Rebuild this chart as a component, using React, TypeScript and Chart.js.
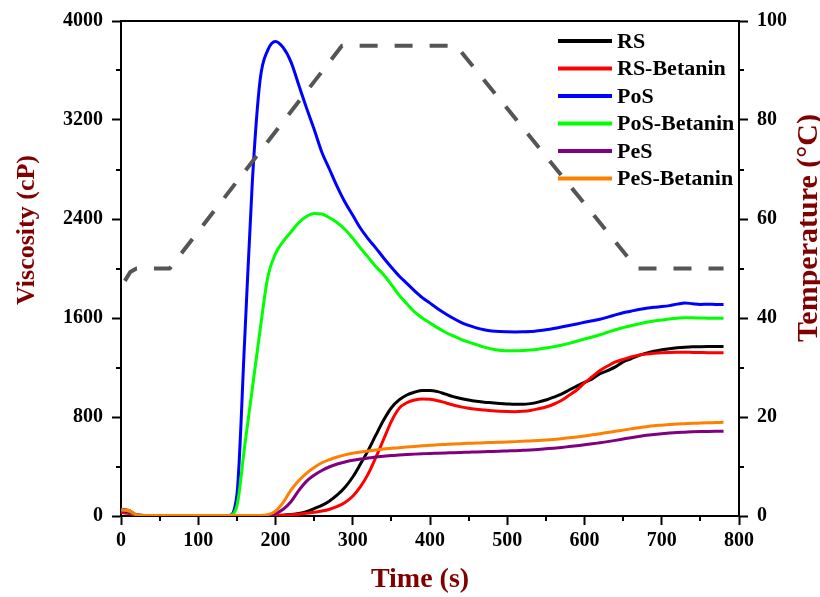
import React, { useEffect, useRef } from "react";
import { Chart, registerables } from "chart.js";

Chart.register(...registerables);

// ---------- DATA ----------
const timeSeconds = [
  0, 10, 20, 30, 40, 50, 60, 70, 80, 90, 100, 110, 120, 130, 140, 150, 160, 170, 180, 190,
  200, 210, 220, 230, 240, 250, 260, 270, 280, 290, 300, 310, 320, 330, 340, 350, 360, 370, 380, 390,
  400, 410, 420, 430, 440, 450, 460, 470, 480, 490, 500, 510, 520, 530, 540, 550, 560, 570, 580, 590,
  600, 610, 620, 630, 640, 650, 660, 670, 680, 690, 700, 710, 720, 730, 740, 750, 760, 770, 780,
];

const rsViscosity = [
  40, 30, 6, 4, 3, 3, 3, 3, 3, 3, 3, 3, 3, 3, 3, 3, 3, 3, 3, 4,
  5, 7, 12, 20, 35, 60, 86, 122, 170, 232, 315, 420, 530, 655, 775, 875, 938, 978, 1000, 1015,
  1015, 1005, 985, 965, 950, 938, 928, 920, 915, 910, 906, 903, 903, 908, 920, 937, 960, 985, 1018, 1050,
  1080, 1108, 1150, 1175, 1205, 1245, 1270, 1297, 1316, 1332, 1343, 1352, 1359, 1364, 1367, 1368, 1369, 1370, 1370,
];

const rsBetaninViscosity = [
  30, 20, 4, 3, 3, 3, 3, 3, 3, 3, 3, 3, 3, 3, 3, 3, 3, 3, 3, 3,
  4, 6, 10, 15, 22, 30, 40, 55, 78, 110, 160, 237, 340, 475, 620, 765, 870, 915, 937, 945,
  943, 932, 915, 897, 882, 870, 862, 856, 850, 846, 844, 843, 846, 853, 866, 881, 903, 933, 975, 1018,
  1075, 1125, 1175, 1212, 1245, 1265, 1285, 1299, 1309, 1316, 1320, 1322, 1323, 1323, 1322, 1321, 1320, 1320, 1320,
];

const posViscosity = [
  45, 35, 8, 5, 5, 5, 5, 5, 5, 5, 5, 5, 5, 5, 5, 170, 1410, 2700, 3520, 3765,
  3835, 3785, 3670, 3485, 3300, 3125, 2940, 2800, 2660, 2535, 2430, 2325, 2240, 2165, 2085, 2010, 1940, 1880, 1820, 1765,
  1720, 1675, 1635, 1598, 1565, 1540, 1520, 1505, 1495, 1490, 1488, 1487, 1488, 1490, 1497, 1505, 1515, 1527, 1540, 1552,
  1565, 1577, 1590, 1607, 1625, 1642, 1655, 1668, 1678, 1686, 1692, 1700, 1712, 1722, 1715, 1710, 1712, 1710, 1710,
];

const posBetaninViscosity = [
  50, 40, 8, 5, 5, 5, 5, 5, 5, 5, 5, 5, 5, 5, 5, 80, 560, 1030, 1500, 1930,
  2120, 2220, 2295, 2370, 2420, 2445, 2440, 2410, 2370, 2315, 2245, 2165, 2090, 2015, 1950, 1870, 1785, 1715, 1650, 1600,
  1560, 1520, 1485, 1455, 1428, 1405, 1385, 1365, 1350, 1340, 1335, 1335, 1337, 1341, 1348, 1357, 1368, 1380, 1395, 1412,
  1430, 1447, 1465, 1485, 1505, 1522, 1538, 1552, 1565, 1576, 1584, 1592, 1598, 1602, 1602, 1600, 1598, 1597, 1597,
];

const pesViscosity = [
  55, 45, 10, 5, 5, 5, 5, 5, 5, 5, 5, 5, 5, 5, 5, 5, 5, 5, 5, 5,
  20, 55, 115, 205, 280, 330, 368, 398, 420, 437, 450, 460, 468, 476, 483, 488, 493, 497, 500, 503,
  506, 508, 510, 512, 514, 516, 518, 520, 522, 524, 526, 528, 531, 534, 538, 543, 548, 554, 561, 568,
  575, 583, 592, 601, 611, 622, 633, 643, 652, 659, 665, 670, 674, 677, 680, 682, 683, 684, 685,
];

const pesBetaninViscosity = [
  50, 45, 10, 5, 5, 5, 5, 5, 5, 5, 5, 5, 5, 5, 5, 5, 5, 5, 5, 10,
  40, 110, 210, 285, 345, 392, 430, 456, 477, 494, 507, 517, 526, 534, 541, 547, 552, 557, 562, 567,
  571, 575, 578, 581, 584, 587, 589, 592, 594, 596, 598, 601, 604, 607, 610, 614, 619, 625, 632, 639,
  647, 656, 665, 675, 684, 694, 704, 714, 722, 729, 734, 739, 743, 746, 749, 751, 753, 755, 757,
];

const tempTime = [5, 12, 20, 63, 286, 434, 668, 780];
const tempValues = [47.5, 49.3, 50, 50, 95, 95, 50, 50];

const seriesLabels = ["RS", "RS-Betanin", "PoS", "PoS-Betanin", "PeS", "PeS-Betanin"];
const seriesColors = ["#000000", "#ff0000", "#0000ff", "#00ff00", "#800080", "#ff8000"];

const xMinorTicks = [50, 150, 250, 350, 450, 550, 650, 750];
const yMinorTicks = [400, 1200, 2000, 2800, 3600];
const y2MinorTicks = [10, 30, 50, 70, 90];

const xTitle = "Time (s)";
const yTitle = "Viscosity (cP)";
const y2Title = "Temperature (°C)";

// ---------- STYLE ----------
const FONT = "'Liberation Serif', 'Times New Roman', serif";
const TITLE_COLOR = "#800000";

const decorPlugin = {
  id: "decor",
  afterDraw(chart: any) {
    const { ctx, chartArea } = chart;
    const { left, right, top } = chartArea;
    ctx.save();
    ctx.setLineDash([]);
    // top frame line
    ctx.strokeStyle = "#000";
    ctx.lineWidth = 2;
    ctx.beginPath();
    ctx.moveTo(left - 1, top);
    ctx.lineTo(right + 1, top);
    ctx.stroke();

    // minor ticks
    const xs = chart.scales.x;
    const ys = chart.scales.y;
    const y2s = chart.scales.y2;
    ctx.beginPath();
    xMinorTicks.forEach((v) => {
      const px = Math.round(xs.getPixelForValue(v));
      ctx.moveTo(px, xs.top);
      ctx.lineTo(px, xs.top + 5);
    });
    yMinorTicks.forEach((v) => {
      const py = Math.round(ys.getPixelForValue(v));
      ctx.moveTo(ys.right, py);
      ctx.lineTo(ys.right - 5, py);
    });
    y2MinorTicks.forEach((v) => {
      const py = Math.round(y2s.getPixelForValue(v));
      ctx.moveTo(y2s.left, py);
      ctx.lineTo(y2s.left + 5, py);
    });
    ctx.stroke();

    // axis titles
    ctx.fillStyle = TITLE_COLOR;
    ctx.textAlign = "center";
    ctx.textBaseline = "middle";
    ctx.font = `bold 28px ${FONT}`;
    ctx.fillText(xTitle, 420, 580);

    ctx.save();
    ctx.translate(27, 230);
    ctx.rotate(-Math.PI / 2);
    ctx.font = `bold 26px ${FONT}`;
    ctx.fillText(yTitle, 0, 0);
    ctx.restore();

    ctx.save();
    ctx.translate(809, 228);
    ctx.rotate(-Math.PI / 2);
    ctx.font = `bold 30px ${FONT}`;
    ctx.fillText(y2Title, 0, 0);
    ctx.restore();

    // legend
    const ds = chart.data.datasets.filter((d: any) => d.yAxisID !== "y2");
    ctx.font = `bold 22px ${FONT}`;
    ctx.textAlign = "left";
    ctx.textBaseline = "middle";
    ds.forEach((d: any, i: number) => {
      const yy = 41 + i * 27.5;
      ctx.strokeStyle = d.borderColor;
      ctx.lineWidth = 4;
      ctx.lineCap = "butt";
      ctx.beginPath();
      ctx.moveTo(558, yy);
      ctx.lineTo(612, yy);
      ctx.stroke();
      ctx.fillStyle = "#000";
      ctx.fillText(d.label, 617, yy + 1);
    });
    ctx.restore();
  },
};

export default function App() {
  const ref = useRef<HTMLCanvasElement>(null);

  useEffect(() => {
    document.body.style.margin = "0";
    const canvas = ref.current;
    if (!canvas) return;

    const seriesValues = [
      rsViscosity,
      rsBetaninViscosity,
      posViscosity,
      posBetaninViscosity,
      pesViscosity,
      pesBetaninViscosity,
    ];

    const datasets: any[] = seriesValues.map((vals, k) => ({
      label: seriesLabels[k],
      data: timeSeconds.map((t, i) => ({ x: t, y: vals[i] })),
      borderColor: seriesColors[k],
      backgroundColor: seriesColors[k],
      borderWidth: 3,
      pointRadius: 0,
      cubicInterpolationMode: "monotone",
      yAxisID: "y",
      order: 6 - k,
    }));

    datasets.push({
      label: "Temperature",
      data: tempTime.map((t, i) => ({ x: t, y: tempValues[i] })),
      borderColor: "#555555",
      backgroundColor: "#555555",
      borderWidth: 4,
      borderDash: [18, 17],
      borderCapStyle: "butt",
      borderJoinStyle: "round",
      pointRadius: 0,
      tension: 0,
      yAxisID: "y2",
      order: 0,
    });

    const tickFont = { family: FONT, size: 20, weight: "bold" as const };
    const plain = (v: any) => String(v);
    const gridCommon = {
      drawOnChartArea: false,
      drawTicks: true,
      tickLength: 9,
      tickWidth: 2,
      tickColor: "#000",
      color: "#000",
    };
    const borderCommon = { display: true, color: "#000", width: 2 };

    const chart = new Chart(canvas, {
      type: "line",
      data: { datasets },
      options: {
        responsive: false,
        animation: false,
        layout: { padding: { top: 21, left: 0, right: 0, bottom: 0 } },
        plugins: {
          legend: { display: false },
          tooltip: { enabled: false },
        },
        scales: {
          x: {
            type: "linear",
            min: 0,
            max: 800,
            ticks: { stepSize: 100, font: tickFont, color: "#000", padding: 4, maxRotation: 0, callback: plain },
            grid: gridCommon,
            border: borderCommon,
            afterFit: (s: any) => {
              s.height = 81;
            },
          },
          y: {
            type: "linear",
            position: "left",
            min: 0,
            max: 4000,
            ticks: { stepSize: 800, font: tickFont, color: "#000", padding: 9, callback: plain },
            grid: gridCommon,
            border: borderCommon,
            afterFit: (s: any) => {
              s.width = 121;
            },
          },
          y2: {
            type: "linear",
            position: "right",
            min: 0,
            max: 100,
            ticks: { stepSize: 20, font: tickFont, color: "#000", padding: 9, callback: plain },
            grid: gridCommon,
            border: borderCommon,
            afterFit: (s: any) => {
              s.width = 81;
            },
          },
        },
      } as any,
      plugins: [decorPlugin],
    });

    return () => {
      chart.destroy();
    };
  }, []);

  return (
    <div style={{ width: 820, height: 597, background: "#fff" }}>
      <canvas ref={ref} width={820} height={597} style={{ display: "block" }} />
    </div>
  );
}
